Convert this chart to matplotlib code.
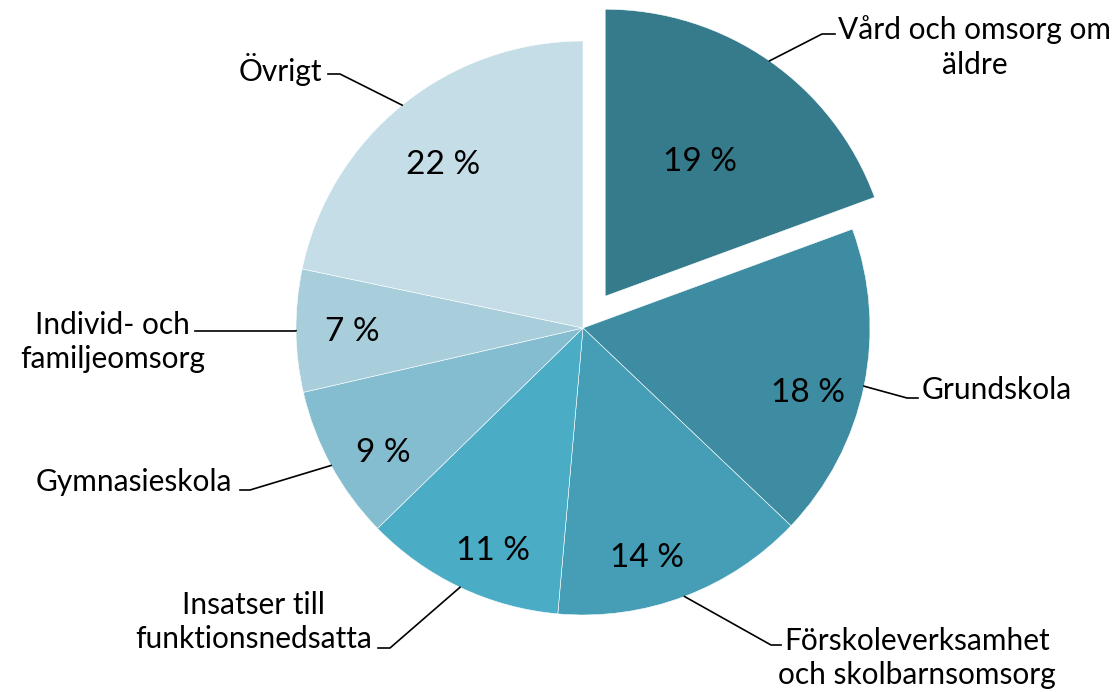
import numpy as np
import matplotlib
matplotlib.use("Agg")
import matplotlib.pyplot as plt

# data
categories = ["Vård och omsorg om\näldre", "Grundskola",
              "Förskoleverksamhet\noch skolbarnsomsorg",
              "Insatser till\nfunktionsnedsatta", "Gymnasieskola",
              "Individ- och\nfamiljeomsorg", "Övrigt"]
shares = [19.4, 17.7, 14.3, 11.3, 8.7, 6.9, 21.7]
colors = ["#357B8B", "#3D8CA2", "#459EB6", "#4BACC6",
          "#84BDD0", "#A8CEDC", "#C5DDE7"]
explode = [0.135, 0, 0, 0, 0, 0, 0]

# layout in image pixels (x right, y down)
W, H = 1113, 692
CX, CY, R = 583, 328, 287
pct_pos = [(700, 162), (808, 393), (647, 558), (493, 551),
           (383, 453), (352, 332), (443, 165)]
# (text x, text y, ha, elbow, end of horizontal)
label_layout = [
    (838, 47, "left", (822, 34), (835, 34)),
    (922, 390, "left", (907, 398), (918, 398)),
    (778, 658, "left", (771, 645), (781, 645)),
    (372, 622, "right", (390, 648), (378, 648)),
    (232, 482, "right", (250, 490), (240, 490)),
    (205, 342, "right", (295, 331), (195, 331)),
    (322, 70, "right", (340, 74), (328, 74)),
]


def p(x, y):
    return (x - CX) / R, (CY - y) / R


plt.rcParams['font.family'] = ['Lato', 'DejaVu Sans']

fig = plt.figure(figsize=(W / 100, H / 100), dpi=100)
ax = fig.add_axes([0, 0, 1, 1])

wedges, _ = ax.pie(shares, colors=colors, explode=explode, startangle=90,
                   counterclock=False, radius=1,
                   wedgeprops=dict(edgecolor="white", linewidth=0.4))
ax.set_xlim(-CX / R, (W - CX) / R)
ax.set_ylim(-(H - CY) / R, CY / R)
ax.set_aspect("auto")
ax.axis("off")

for w, s, (px, py) in zip(wedges, shares, pct_pos):
    ax.text(*p(px, py), f"{round(s)} %", ha="center", va="center", fontsize=24)

for w, name, (tx, ty, ha, elbow, end) in zip(wedges, categories, label_layout):
    ang = np.deg2rad((w.theta1 + w.theta2) / 2)
    cx, cy = w.center
    sx, sy = cx + w.r * np.cos(ang), cy + w.r * np.sin(ang)
    ex, ey = p(*elbow)
    fx, fy = p(*end)
    ax.plot([sx, ex, fx], [sy, ey, fy], color="black", lw=1.2)
    ax.text(*p(tx, ty), name, ha=ha, va="center", fontsize=21.5,
            multialignment="center", linespacing=1.3)

fig.savefig("out.png", dpi=100)
